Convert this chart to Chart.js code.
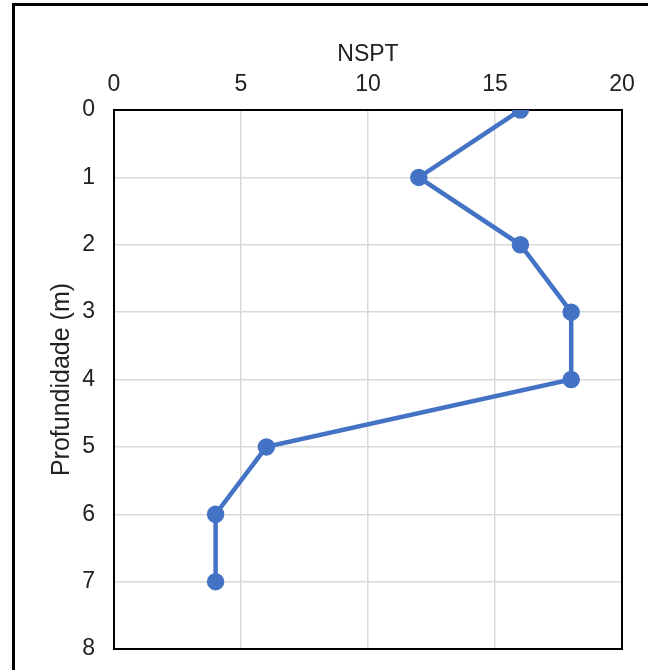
<!DOCTYPE html>
<html>
<head>
<meta charset="utf-8">
<script src="https://cdn.jsdelivr.net/npm/chart.js@4.4.1/dist/chart.umd.min.js"></script>
<style>
  html, body { margin: 0; padding: 0; background: #fff; overflow: hidden; }
  #wrap { position: relative; width: 648px; height: 670px; overflow: hidden; }
  #frame { position: absolute; left: 12px; top: 3px; width: 700px; height: 700px;
           border-top: 3px solid #000; border-left: 3px solid #000; }
  canvas { position: absolute; left: 0; top: 0; }
</style>
</head>
<body>
<div id="wrap">
  <div id="frame"></div>
  <canvas id="sptChart" width="648" height="670"></canvas>
</div>
<script>
// Ensaio SPT: profundidade x NSPT
const profundidade = [0, 1, 2, 3, 4, 5, 6, 7];
const nspt = [16, 12, 16, 18, 18, 6, 4, 4];
const xTicks = [0, 5, 10, 15, 20];
const yTicks = [0, 1, 2, 3, 4, 5, 6, 7, 8];

const azul = '#4472C4';
const fonte = "'Liberation Sans', Arial, sans-serif";

// moldura da área de plotagem
const bordaPlot = {
    id: 'bordaPlot',
    beforeDatasetsDraw(chart) {
        const a = chart.chartArea;
        const ctx = chart.ctx;
        ctx.save();
        ctx.strokeStyle = '#000';
        ctx.lineWidth = 2;
        ctx.strokeRect(a.left, a.top, a.right - a.left, a.bottom - a.top);
        ctx.restore();
    }
};

const ctx = document.getElementById('sptChart').getContext('2d');
new Chart(ctx, {
    type: 'scatter',
    data: {
        datasets: [{
            label: 'NSPT',
            data: profundidade.map((p, i) => ({ x: nspt[i], y: p })),
            showLine: true,
            borderColor: azul,
            backgroundColor: azul,
            borderWidth: 4.5,
            pointRadius: 6.5,
            pointHoverRadius: 6.5,
            tension: 0
        }]
    },
    options: {
        responsive: false,
        animation: false,
        layout: { padding: { left: 13, top: 0, right: 26, bottom: 21 } },
        plugins: {
            legend: { display: false },
            tooltip: { enabled: false }
        },
        scales: {
            x: {
                position: 'top',
                min: 0,
                max: 20,
                afterBuildTicks: s => { s.ticks = xTicks.map(v => ({ value: v })); },
                afterFit: s => { s.height = 110; s.paddingLeft = 0; s.paddingRight = 0; },
                grid: { color: '#d9d9d9', lineWidth: 1.5, drawTicks: false },
                border: { display: false },
                ticks: { color: '#222', font: { family: fonte, size: 23 }, padding: 12, maxRotation: 0 },
                title: { display: true, text: 'NSPT', color: '#222', font: { family: fonte, size: 23 }, padding: { top: 41, bottom: 0 } }
            },
            y: {
                reverse: true,
                min: 0,
                max: 8,
                afterBuildTicks: s => { s.ticks = yTicks.map(v => ({ value: v })); },
                afterFit: s => { s.width = 101; s.paddingTop = 0; s.paddingBottom = 0; },
                grid: { color: '#d9d9d9', lineWidth: 1.5, drawTicks: false },
                border: { display: false },
                ticks: { color: '#222', font: { family: fonte, size: 23 }, padding: 19 },
                title: { display: true, text: 'Profundidade (m)', color: '#222', font: { family: fonte, size: 25 }, padding: { top: 34, bottom: 0 } }
            }
        }
    },
    plugins: [bordaPlot]
});
</script>
</body>
</html>
